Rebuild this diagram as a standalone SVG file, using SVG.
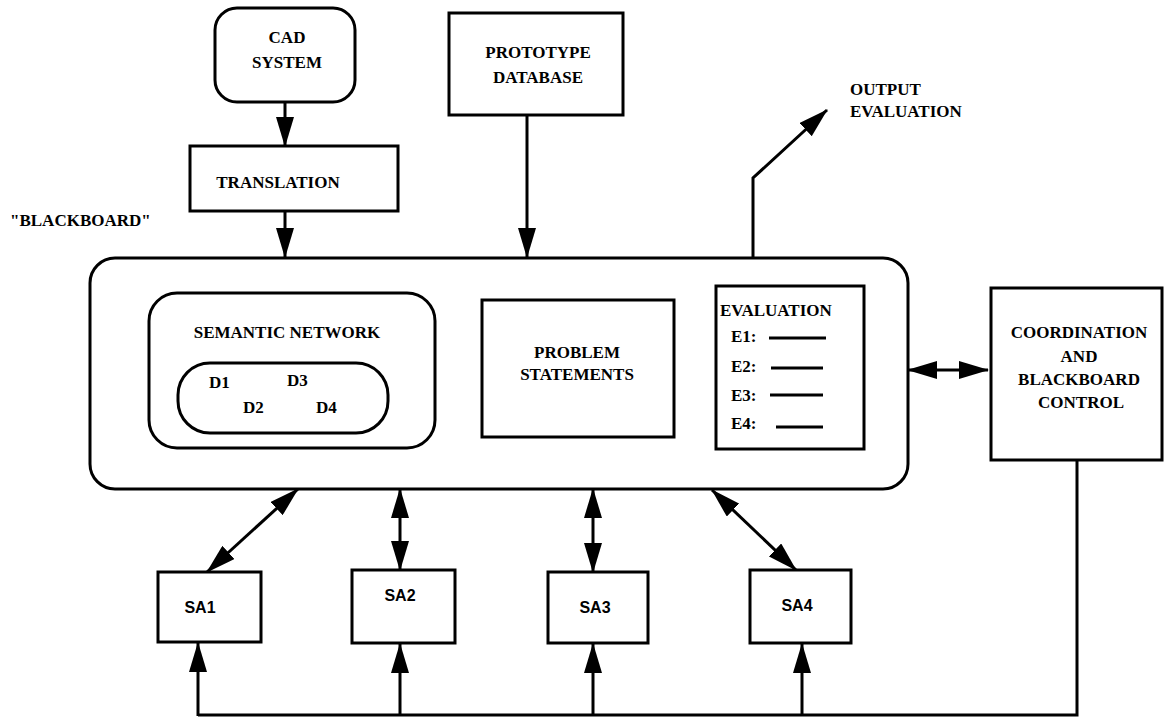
<svg xmlns="http://www.w3.org/2000/svg" width="1165" height="719" viewBox="0 0 1165 719">
<style>
.box{fill:#fff;stroke:#000;stroke-width:3}
.ln{fill:none;stroke:#000;stroke-width:3}
.t{font-family:"Liberation Serif","Times New Roman",serif;font-weight:bold;font-size:17px;fill:#000}
.m{text-anchor:middle}
.s{font-family:"Liberation Sans",Arial,sans-serif;font-weight:bold;font-size:16px;fill:#000;text-anchor:middle}
.a{fill:none;stroke:#000;stroke-width:3;marker-end:url(#ah)}
.d{fill:none;stroke:#000;stroke-width:3;marker-start:url(#ah);marker-end:url(#ah)}
</style>
<defs>
<marker id="ah" viewBox="0 0 30 18" refX="29" refY="9" markerWidth="30" markerHeight="18" markerUnits="userSpaceOnUse" orient="auto-start-reverse">
<path d="M0,0 L30,9 L0,18 z" fill="#000"/>
</marker>
</defs>
<rect width="1165" height="719" fill="#fff"/>

<g id="blackboard">
<rect class="box" x="90" y="258" width="818" height="231" rx="25"/>
<text class="t" x="10" y="226">"BLACKBOARD"</text>
</g>
<g id="cad">
<rect class="box" x="215" y="8" width="140" height="94" rx="22"/>
<text class="t m" x="287" y="43">CAD</text>
<text class="t m" x="287" y="68">SYSTEM</text>
</g>
<g id="translation">
<rect class="box" x="190" y="146" width="208" height="65"/>
<text class="t m" x="278" y="188">TRANSLATION</text>
</g>
<g id="prototype">
<rect class="box" x="449" y="13" width="174" height="102"/>
<text class="t m" x="538" y="58">PROTOTYPE</text>
<text class="t m" x="538" y="83">DATABASE</text>
</g>
<g id="output">
<text class="t" x="850" y="95">OUTPUT</text>
<text class="t" x="850" y="117">EVALUATION</text>
</g>
<g id="semantic">
<rect class="box" x="149" y="293" width="286" height="155" rx="28"/>
<text class="t m" x="287" y="338" font-size="16">SEMANTIC NETWORK</text>
<rect class="box" x="178" y="363" width="210" height="70" rx="32"/>
<text class="t" x="209" y="388">D1</text>
<text class="t" x="287" y="386">D3</text>
<text class="t" x="243" y="413">D2</text>
<text class="t" x="316" y="413">D4</text>
</g>
<g id="problem">
<rect class="box" x="482" y="300" width="192" height="137"/>
<text class="t m" x="577" y="358">PROBLEM</text>
<text class="t m" x="577" y="380">STATEMENTS</text>
</g>
<g id="evaluation">
<rect class="box" x="716" y="286" width="148" height="163"/>
<text class="t" x="720" y="316">EVALUATION</text>
<text class="t" x="731" y="342">E1:</text>
<text class="t" x="731" y="372">E2:</text>
<text class="t" x="731" y="401">E3:</text>
<text class="t" x="731" y="429">E4:</text>
<line class="ln" x1="769" y1="338" x2="826" y2="338"/>
<line class="ln" x1="771" y1="368" x2="823" y2="368"/>
<line class="ln" x1="770" y1="395" x2="823" y2="395"/>
<line class="ln" x1="776" y1="427" x2="823" y2="427"/>
</g>
<g id="coordination">
<rect class="box" x="991" y="288" width="171" height="172"/>
<text class="t m" x="1079" y="338">COORDINATION</text>
<text class="t m" x="1079" y="362">AND</text>
<text class="t m" x="1079" y="385">BLACKBOARD</text>
<text class="t m" x="1081" y="408">CONTROL</text>
</g>
<g id="sa1">
<rect class="box" x="158" y="572" width="103" height="70"/>
<text class="s" x="200" y="613">SA1</text>
</g>
<g id="sa2">
<rect class="box" x="352" y="570" width="103" height="73"/>
<text class="s" x="400" y="601">SA2</text>
</g>
<g id="sa3">
<rect class="box" x="548" y="572" width="100" height="71"/>
<text class="s" x="595" y="613">SA3</text>
</g>
<g id="sa4">
<rect class="box" x="750" y="570" width="101" height="73"/>
<text class="s" x="797" y="611">SA4</text>
</g>

<g id="connectors">
<line class="a" x1="285" y1="102" x2="285" y2="146"/>
<line class="a" x1="285" y1="211" x2="285" y2="257"/>
<line class="a" x1="527" y1="115" x2="527" y2="257"/>
<polyline class="a" points="753,258 753,178 827,110"/>
<line class="d" x1="908" y1="370" x2="988" y2="370"/>
<line class="d" x1="298" y1="489" x2="207" y2="572"/>
<line class="d" x1="400" y1="489" x2="400" y2="570"/>
<line class="d" x1="593" y1="489" x2="593" y2="572"/>
<line class="d" x1="712" y1="490" x2="796" y2="570"/>
<polyline class="ln" points="1077,460 1077,715 198,715"/>
<line class="a" x1="198" y1="716" x2="198" y2="643"/>
<line class="a" x1="400" y1="716" x2="400" y2="644"/>
<line class="a" x1="593" y1="716" x2="593" y2="644"/>
<line class="a" x1="802" y1="716" x2="802" y2="644"/>
</g>
</svg>
